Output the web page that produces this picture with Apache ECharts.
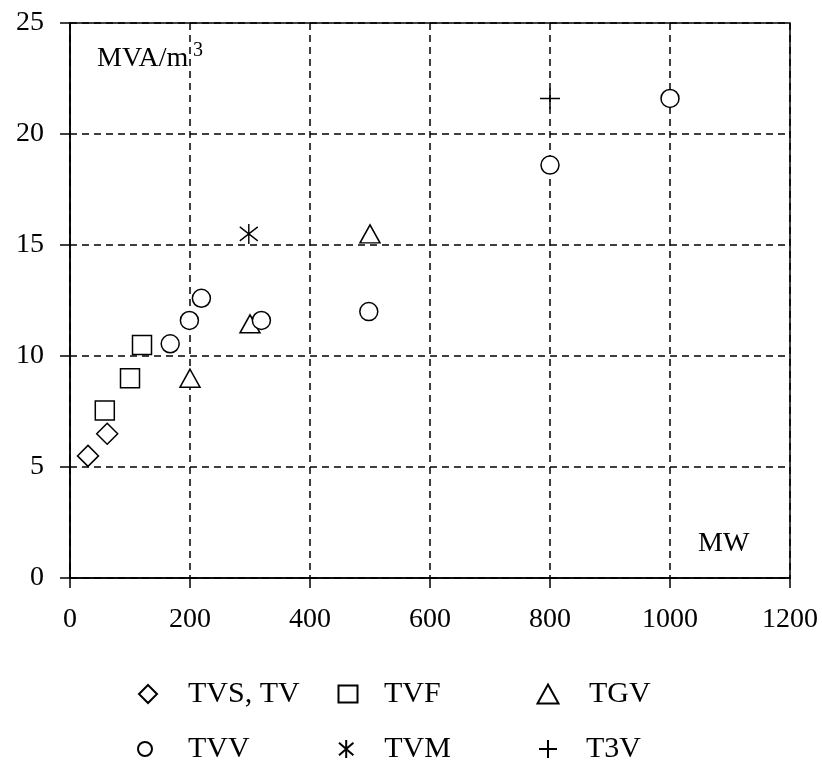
<!DOCTYPE html>
<html>
<head>
<meta charset="utf-8">
<script src="https://cdn.jsdelivr.net/npm/echarts@6/dist/echarts.min.js"></script>
<style>
html,body{margin:0;padding:0;background:#fff;}
#chart{width:822px;height:760px;}
</style>
</head>
<body>
<div id="chart"></div>
<script>
// ---- data ----
var xTicks = [0, 200, 400, 600, 800, 1000, 1200];
var yTicks = [0, 5, 10, 15, 20, 25];
var seriesNames = ['TVS, TV', 'TVF', 'TGV', 'TVV', 'TVM', 'T3V'];
var tvsTv = [[30, 5.5], [62, 6.5]];
var tvf = [[58, 7.55], [100, 9.0], [120, 10.5]];
var tgv = [[200, 9.0], [300, 11.45], [500, 15.5]];
var tvv = [[167, 10.55], [199, 11.6], [219, 12.6], [319, 11.6], [498, 12.0], [800, 18.6], [1000, 21.6]];
var tvm = [[298, 15.5]];
var t3v = [[800, 21.6]];
var yTitleMain = 'MVA/m';
var yTitleSup = '3';
var xTitle = 'MW';

var FONT = '"Liberation Serif", "Times New Roman", serif';
var asterisk = 'path://M10,0L10,20M2,3L18,17M2,17L18,3';
var plus = 'path://M10,0L10,20M0,10L20,10';

var chart = echarts.init(document.getElementById('chart'));

function baseStyle() {
  return { color: '#fff', borderColor: '#000', borderWidth: 1.5, opacity: 1 };
}
function strokeStyle() {
  return { color: 'transparent', borderColor: '#000', borderWidth: 1.5, opacity: 1 };
}

var series = [
  { name: seriesNames[0], type: 'scatter', data: tvsTv, symbol: 'diamond', symbolSize: [21, 21], itemStyle: baseStyle() },
  { name: seriesNames[1], type: 'scatter', data: tvf, symbol: 'rect', symbolSize: 19, itemStyle: baseStyle() },
  { name: seriesNames[2], type: 'scatter', data: tgv, symbol: 'triangle', symbolSize: [20, 18], itemStyle: baseStyle() },
  { name: seriesNames[3], type: 'scatter', data: tvv, symbol: 'circle', symbolSize: 18, itemStyle: baseStyle() },
  { name: seriesNames[4], type: 'scatter', data: tvm, symbol: asterisk, symbolSize: [18, 20], itemStyle: strokeStyle() },
  { name: seriesNames[5], type: 'scatter', data: t3v, symbol: plus, symbolSize: 20, itemStyle: strokeStyle() }
];

function legendAt(name, iconCx, textStart, cy, iconW, iconH) {
  var gap = textStart - (iconCx + iconW / 2) - 5;
  return {
    data: [name],
    left: iconCx - iconW / 2,
    top: cy - 16,
    orient: 'horizontal',
    itemWidth: iconW,
    itemHeight: iconH,
    padding: 0,
    selectedMode: false,
    textStyle: { fontFamily: FONT, fontSize: 30, color: '#000', lineHeight: 32, padding: [0, 0, 0, gap] }
  };
}

var option = {
  animation: false,
  backgroundColor: '#fff',
  grid: { left: 70, right: 32, top: 23, bottom: 182, show: true, borderColor: '#000', borderWidth: 1.5, containLabel: false },
  xAxis: {
    type: 'value', min: 0, max: 1200, interval: 200,
    axisLine: { show: true, onZero: false, lineStyle: { color: '#000', width: 1.5 } },
    axisTick: { show: true, length: 10, lineStyle: { color: '#000', width: 1.5 } },
    axisLabel: { fontFamily: FONT, fontSize: 28, color: '#000', margin: 28,
      formatter: function (v) { return xTicks.indexOf(v) >= 0 ? String(v) : ''; } },
    splitLine: { show: true, lineStyle: { color: '#000', width: 1.5, type: [7, 5] } }
  },
  yAxis: {
    type: 'value', min: 0, max: 25, interval: 5,
    axisLine: { show: true, onZero: false, lineStyle: { color: '#000', width: 1.5 } },
    axisTick: { show: true, length: 10, lineStyle: { color: '#000', width: 1.5 } },
    axisLabel: { fontFamily: FONT, fontSize: 28, color: '#000', margin: 26,
      formatter: function (v) { return yTicks.indexOf(v) >= 0 ? String(v) : ''; } },
    splitLine: { show: true, lineStyle: { color: '#000', width: 1.5, type: [7, 5] } }
  },
  legend: [
    legendAt(seriesNames[0], 147, 187, 694, 18, 18),
    legendAt(seriesNames[1], 347, 383, 694, 19, 17),
    legendAt(seriesNames[2], 547, 588, 694, 21, 19),
    legendAt(seriesNames[3], 144, 187, 749, 14, 14),
    legendAt(seriesNames[4], 347, 385, 749, 18, 18),
    legendAt(seriesNames[5], 547, 585, 749, 18, 18)
  ],
  graphic: [
    { type: 'text', left: 97, top: 45, style: { text: yTitleMain, font: '28px ' + FONT, fill: '#000' } },
    { type: 'text', left: 193, top: 41, style: { text: yTitleSup, font: '20px ' + FONT, fill: '#000' } },
    { type: 'text', left: 698, top: 530, style: { text: xTitle, font: '28px ' + FONT, fill: '#000' } }
  ],
  series: series
};
chart.setOption(option);
</script>
</body>
</html>
